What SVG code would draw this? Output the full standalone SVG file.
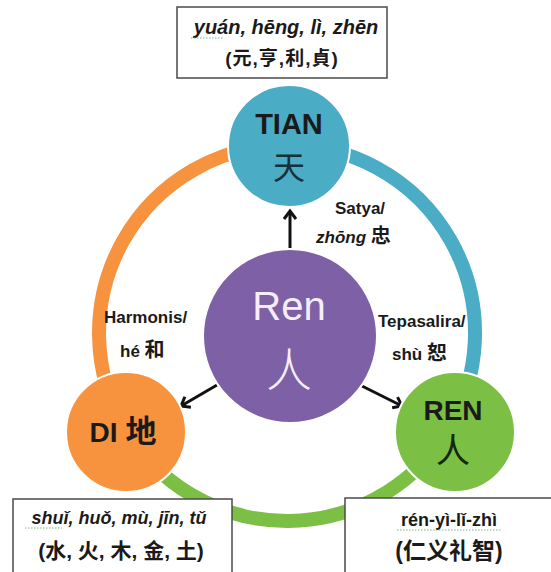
<svg xmlns="http://www.w3.org/2000/svg" width="551" height="572" viewBox="0 0 551 572">
<style>
  .t{font-family:"Liberation Sans","Noto Sans CJK SC",sans-serif;font-weight:bold;fill:#1a1a1a}
  .it{font-style:italic}
  .cjk{font-family:"Noto Sans CJK SC","Noto Sans CJK TC",sans-serif}
  .box{fill:#fff;stroke:#4a4a4a;stroke-width:1.5}
  .arc{fill:none;stroke-width:14}
  .node{stroke:#fff;stroke-width:2}
  .conn{stroke:#111;stroke-width:3;fill:none}
  .sq{stroke:#7cb87c;stroke-width:1;stroke-dasharray:1.5 1.5;fill:none}
</style>
<defs>
  <marker id="ah" markerUnits="userSpaceOnUse" markerWidth="16" markerHeight="16" refX="11" refY="8" orient="auto">
    <path d="M3,2 L11,8 L3,14" fill="none" stroke="#111" stroke-width="3" stroke-linejoin="miter"/>
  </marker>
</defs>
<rect width="551" height="572" fill="#fff"/>

<g id="ring">
  <path class="arc" stroke="#F7923E" d="M289,145 A188,188 0 0 0 126.9,431.5"/>
  <path class="arc" stroke="#4BACC6" d="M289,145 A188,188 0 0 1 449,428.4"/>
  <path class="arc" stroke="#7CBF45" d="M126.9,431.5 A188,188 0 0 0 449,428.4"/>
</g>

<g id="connectors">
  <line class="conn" x1="290" y1="248" x2="290" y2="211" marker-end="url(#ah)"/>
  <line class="conn" x1="217" y1="385" x2="181" y2="406" marker-end="url(#ah)"/>
  <line class="conn" x1="362" y1="386" x2="402" y2="406" marker-end="url(#ah)"/>
</g>

<g id="tian">
  <circle class="node" cx="289" cy="146" r="61" fill="#4BACC6"/>
  <text class="t" x="289" y="134" font-size="29" text-anchor="middle">TIAN</text>
  <text class="cjk" x="289" y="179" font-size="32" text-anchor="middle" fill="#17303a">天</text>
</g>

<g id="ren-center">
  <circle class="node" cx="290" cy="336" r="87" fill="#7E60A6"/>
  <text x="289" y="320" font-family="Liberation Sans, sans-serif" font-size="40" text-anchor="middle" fill="#F5EEFA">Ren</text>
  <text class="cjk" x="289" y="386" font-size="46" font-weight="300" text-anchor="middle" fill="#F5EEFA">人</text>
</g>

<g id="di">
  <circle class="node" cx="126" cy="432" r="60" fill="#F7923E"/>
  <text class="t" x="123" y="442" font-size="28" text-anchor="middle">DI <tspan font-size="31">地</tspan></text>
</g>

<g id="ren">
  <circle class="node" cx="455" cy="432" r="60" fill="#7CBF45"/>
  <text class="t" x="453" y="420" font-size="28" text-anchor="middle">REN</text>
  <text class="cjk" x="453" y="463" font-size="34" text-anchor="middle" fill="#14280c">人</text>
</g>

<g id="label-satya">
  <text class="t" x="335" y="214" font-size="17">Satya/</text>
  <text class="t" x="316" y="243" font-size="17"><tspan class="it">zhōng</tspan> <tspan font-size="20">忠</tspan></text>
</g>

<g id="label-harmonis">
  <text class="t" x="104" y="323" font-size="17">Harmonis/</text>
  <text class="t" x="120" y="357" font-size="17">hé <tspan font-size="20">和</tspan></text>
</g>

<g id="label-tepasalira">
  <text class="t" x="378" y="327" font-size="17">Tepasalira/</text>
  <text class="t" x="392" y="360" font-size="17">shù <tspan font-size="20">恕</tspan></text>
</g>

<g id="box-tian">
  <rect class="box" x="177" y="7" width="210" height="71"/>
  <text class="t it" x="286" y="34" font-size="20" text-anchor="middle">yuán, hēng, lì, zhēn</text>
  <path class="sq" d="M191,38 H223"/>
  <text class="t" x="282" y="65" font-size="19" text-anchor="middle" letter-spacing="1">(元,亨,利,貞)</text>
</g>

<g id="box-di">
  <rect class="box" x="13" y="499" width="219" height="90"/>
  <text class="t it" x="119" y="524" font-size="18" text-anchor="middle">shuǐ, huǒ, mù, jīn, tǔ</text>
  <path class="sq" d="M25,528 H62"/>
  <text class="t" x="121" y="558" font-size="21" text-anchor="middle">(水, 火, 木, 金, 土)</text>
</g>

<g id="box-ren">
  <rect class="box" x="345" y="498" width="220" height="90"/>
  <text class="t" x="449" y="526" font-size="18" text-anchor="middle">rén-yì-lǐ-zhì</text>
  <path class="sq" d="M397,530 H502"/>
  <text class="t" x="449" y="559" font-size="23" text-anchor="middle">(仁义礼智)</text>
</g>
</svg>
